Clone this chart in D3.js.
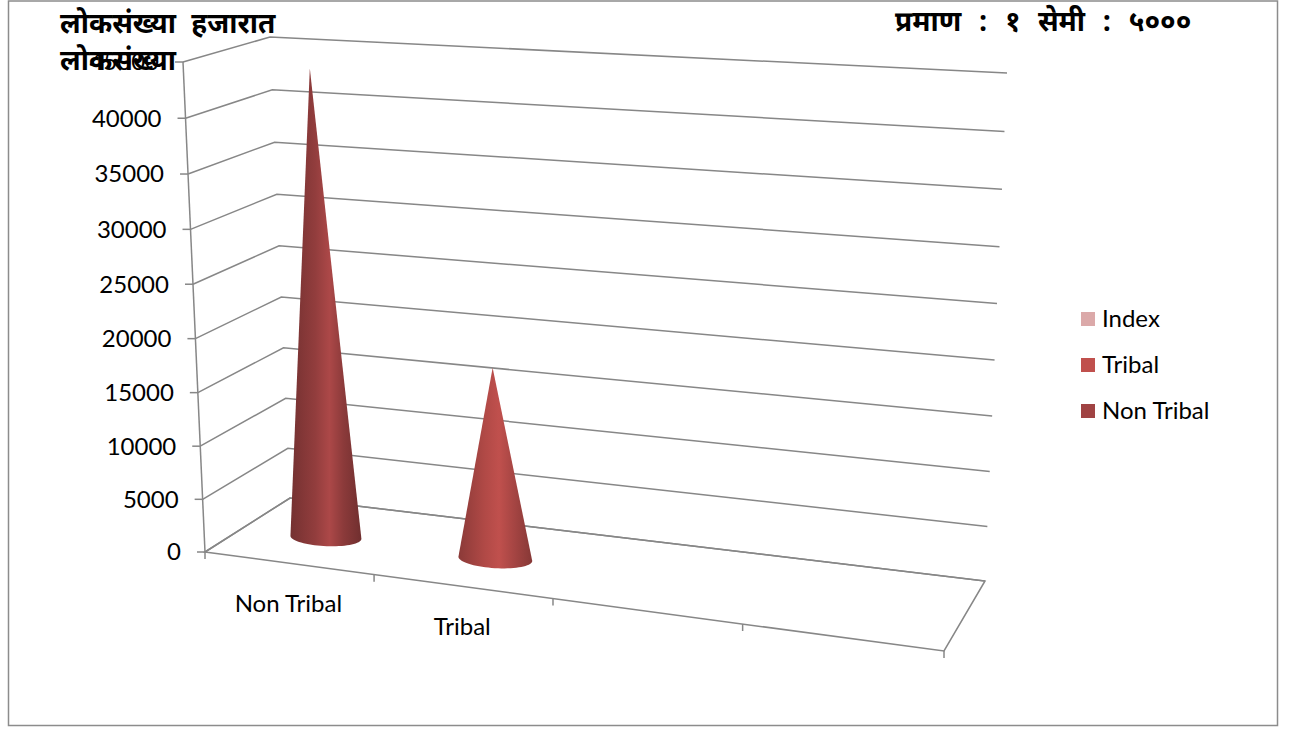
<!DOCTYPE html>
<html>
<head>
<meta charset="utf-8" />
<title>लोकसंख्या</title>
<style>
  html, body { margin: 0; padding: 0; background: #fff; }
  svg { display: block; }
  .lat { font-family: Lato, "Open Sans", sans-serif; font-size: 24px; fill: #000; }
  .dev { font-family: "Noto Sans Devanagari", "Lohit Devanagari", Mangal, "Noto Sans", sans-serif; font-size: 28px; font-weight: bold; fill: #000; }
</style>
</head>
<body>
<svg width="1293" height="729"></svg>
<script src="https://cdn.jsdelivr.net/npm/d3@7"></script>
<script>
// data
var categories = ["Non Tribal", "Tribal", "", ""];
var values = [43800, 17800, null, null];
var seriesNames = ["Index", "Tribal", "Non Tribal"];
var seriesColors = ["#dba9a9", "#c0504d", "#a04343"];
var yTicks = [0, 5000, 10000, 15000, 20000, 25000, 30000, 35000, 40000, 45000];
var titleText = "लोकसंख्या हजारात";
var axisTitle = "लोकसंख्या";
var scaleText = "प्रमाण : १ सेमी : ५०००";

var svg = d3.select("svg");

// outer border
svg.append("rect")
  .attr("x", 8.5).attr("y", 1).attr("width", 1269).attr("height", 724.5)
  .attr("fill", "none").attr("stroke", "#8c8c8c").attr("stroke-width", 1.5);

// screen corners of the 3d box [x, y, depth] indexed u,v,w
var box = {
  "000": [205, 552, 1.0],   "100": [944, 651, 0.89],
  "001": [290, 498, 1.063], "101": [985, 581, 0.953],
  "010": [183, 62, 0.964],  "110": [966, 108, 0.854],
  "011": [270, 37, 1.027],  "111": [1007, 73, 0.917]
};

// perspective correct trilinear mapping
function project(u, v, w) {
  var sx = 0, sy = 0, sz = 0;
  [0, 1].forEach(function(a) {
    [0, 1].forEach(function(b) {
      [0, 1].forEach(function(c) {
        var k = (a ? u : 1 - u) * (b ? v : 1 - v) * (c ? w : 1 - w);
        var p = box["" + a + b + c];
        sx += k * p[2] * p[0];
        sy += k * p[2] * p[1];
        sz += k * p[2];
      });
    });
  });
  return [sx / sz, sy / sz];
}

var x = d3.scaleBand().domain(d3.range(categories.length)).range([0, 1]);
var y = d3.scaleLinear().domain([0, 45000]).range([0, 1]);
var depth = 0.45;

var line = d3.line();
var gridColor = "#878787";

// gridlines on side wall and back wall
yTicks.forEach(function(t) {
  var v = y(t);
  svg.append("path")
    .attr("d", line([project(0, v, 0), project(0, v, 1), project(1, v, 1)]))
    .attr("fill", "none").attr("stroke", gridColor).attr("stroke-width", 1.5);
});

// floor
svg.append("path")
  .attr("d", line([project(0, 0, 0), project(0, 0, 1), project(1, 0, 1), project(1, 0, 0)]) + "Z")
  .attr("fill", "none").attr("stroke", gridColor).attr("stroke-width", 1.5);

// value axis
svg.append("path")
  .attr("d", line([project(0, 0, 0), project(0, 1, 0)]))
  .attr("stroke", gridColor).attr("stroke-width", 1.5);

yTicks.forEach(function(t) {
  var p = project(0, y(t), 0);
  svg.append("path")
    .attr("d", line([[p[0] - 8, p[1]], p]))
    .attr("stroke", gridColor).attr("stroke-width", 1.5);
  svg.append("text").attr("class", "lat")
    .attr("x", p[0] - 24).attr("y", p[1])
    .attr("dy", "0.35em").attr("text-anchor", "end")
    .text(t);
});

// category axis ticks and labels
d3.range(categories.length + 1).forEach(function(i) {
  var p = project(i / categories.length, 0, 0);
  svg.append("path")
    .attr("d", line([p, [p[0], p[1] + 7]]))
    .attr("stroke", gridColor).attr("stroke-width", 1.5);
});

categories.forEach(function(c, i) {
  var p = project(x(i) + x.bandwidth() / 2, 0, 0);
  svg.append("text").attr("class", "lat")
    .attr("x", p[0]).attr("y", p[1] + 49)
    .attr("text-anchor", "middle")
    .text(c);
});

// cone shading
var defs = svg.append("defs");
function coneGradient(id, color, hi) {
  var c = d3.color(color);
  var g = defs.append("linearGradient").attr("id", id)
    .attr("x1", 0).attr("x2", 1).attr("y1", 0).attr("y2", 0);
  g.append("stop").attr("offset", 0).attr("stop-color", c.darker(0.9));
  g.append("stop").attr("offset", 0.35).attr("stop-color", c.darker(0.25));
  g.append("stop").attr("offset", 0.55).attr("stop-color", c.brighter(hi));
  g.append("stop").attr("offset", 0.75).attr("stop-color", c.darker(0.4));
  g.append("stop").attr("offset", 1).attr("stop-color", c.darker(1.0));
}
coneGradient("g0", seriesColors[2], 0.2);
coneGradient("g1", seriesColors[1], 0.0);

// cones
var ru = 0.051, rw = 0.14;
values.forEach(function(val, i) {
  if (val == null) return;
  var uc = x(i) + x.bandwidth() / 2;
  var pts = d3.range(0, 360, 5).map(function(a) {
    var r = a * Math.PI / 180;
    return project(uc + ru * Math.cos(r), 0, depth + rw * Math.sin(r));
  });
  pts.push(project(uc, y(val), depth));
  svg.append("path")
    .attr("d", line(d3.polygonHull(pts)) + "Z")
    .attr("fill", "url(#g" + i + ")");
});

// legend
seriesNames.forEach(function(s, i) {
  var cy = 319 + i * 46;
  svg.append("rect")
    .attr("x", 1081).attr("y", cy - 7).attr("width", 14).attr("height", 14)
    .attr("fill", seriesColors[i]);
  svg.append("text").attr("class", "lat")
    .attr("x", 1102).attr("y", cy).attr("dy", "0.35em")
    .text(s);
});

// titles
svg.append("text").attr("class", "dev").attr("x", 60).attr("y", 33)
  .style("word-spacing", "8px").text(titleText);
svg.append("text").attr("class", "dev").attr("x", 60).attr("y", 70).text(axisTitle);
svg.append("text").attr("class", "dev").attr("x", 895).attr("y", 31)
  .style("word-spacing", "10px").text(scaleText);
</script>
</body>
</html>
